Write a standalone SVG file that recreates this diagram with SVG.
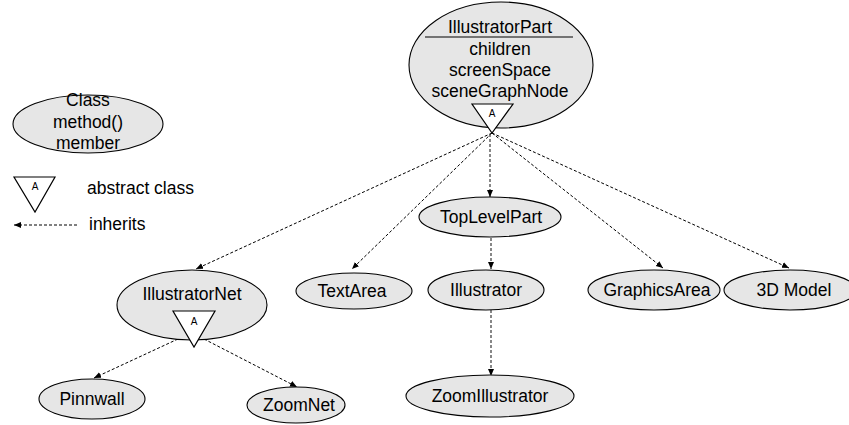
<svg xmlns="http://www.w3.org/2000/svg" width="849" height="425" viewBox="0 0 849 425">
<style>
  .n { fill: #e6e6e6; stroke: #000; stroke-width: 1.1; }
  .t { font-family: "Liberation Sans", Arial, sans-serif; font-size: 17.5px; fill: #000; text-anchor: middle; }
  .lt { font-family: "Liberation Sans", Arial, sans-serif; font-size: 17.5px; fill: #000; }
  .a { font-family: "Liberation Sans", Arial, sans-serif; font-size: 10px; fill: #000; text-anchor: middle; }
  .tri { fill: #fff; stroke: #000; stroke-width: 1.2; }
  .e { fill: none; stroke: #000; stroke-width: 1; stroke-dasharray: 3 2; marker-end: url(#ah); }
  .v { fill: none; stroke: #555; stroke-width: 1.4; stroke-dasharray: 3 2; marker-end: url(#ah); }
</style>
<defs>
  <marker id="ah" markerWidth="8" markerHeight="8" refX="7" refY="4" orient="auto" markerUnits="userSpaceOnUse">
    <path d="M0,1 L7,4 L0,7 Z" fill="#000"/>
  </marker>
</defs>
<rect width="849" height="425" fill="#fff"/>

<g id="legend">
  <ellipse class="n" cx="88" cy="124" rx="75" ry="29"/>
  <text class="t" x="88" y="106">Class</text>
  <text class="t" x="88" y="128">method()</text>
  <text class="t" x="88" y="149">member</text>
  <polygon class="tri" points="14,177 55,177 35,212"/>
  <text class="a" x="35" y="190">A</text>
  <text class="lt" x="87" y="194">abstract class</text>
  <line class="e" x1="77" y1="225" x2="14" y2="225"/>
  <text class="lt" x="89" y="230">inherits</text>
</g>

<g id="connectors">
  <line class="e" x1="492" y1="133" x2="196" y2="269"/>
  <line class="e" x1="492" y1="133" x2="352" y2="269"/>
  <line class="v" x1="490" y1="134" x2="490" y2="197"/>
  <line class="e" x1="492" y1="133" x2="663" y2="268"/>
  <line class="e" x1="492" y1="133" x2="789" y2="268"/>
  <line class="v" x1="491" y1="238" x2="491" y2="269"/>
  <line class="v" x1="491" y1="310" x2="491" y2="376"/>
  <line class="e" x1="178" y1="339" x2="94" y2="378"/>
  <line class="e" x1="204" y1="339" x2="297" y2="387"/>
</g>

<g id="IllustratorPart">
  <ellipse class="n" cx="501" cy="65" rx="92" ry="63"/>
  <text class="t" x="500" y="33">IllustratorPart</text>
  <line x1="425" y1="37" x2="573" y2="37" stroke="#000" stroke-width="1.2"/>
  <text class="t" x="500" y="55">children</text>
  <text class="t" x="500" y="76">screenSpace</text>
  <text class="t" x="500" y="97">sceneGraphNode</text>
  <polygon class="tri" points="472,104 513,104 492,133"/>
  <text class="a" x="492" y="117">A</text>
</g>

<g id="IllustratorNet">
  <ellipse class="n" cx="192" cy="305" rx="75" ry="35"/>
  <text class="t" x="192" y="300">IllustratorNet</text>
  <polygon class="tri" points="173,311 215,311 194,347"/>
  <text class="a" x="194" y="325">A</text>
</g>

<g id="TextArea">
  <ellipse class="n" cx="354" cy="291" rx="58" ry="18"/>
  <text class="t" x="352" y="297">TextArea</text>
</g>

<g id="TopLevelPart">
  <ellipse class="n" cx="490" cy="217" rx="71" ry="20"/>
  <text class="t" x="491" y="223">TopLevelPart</text>
</g>

<g id="Illustrator">
  <ellipse class="n" cx="486" cy="290" rx="58" ry="20"/>
  <text class="t" x="486" y="296">Illustrator</text>
</g>

<g id="ZoomIllustrator">
  <ellipse class="n" cx="490" cy="396" rx="84" ry="21"/>
  <text class="t" x="490" y="402">ZoomIllustrator</text>
</g>

<g id="GraphicsArea">
  <ellipse class="n" cx="654" cy="290" rx="66" ry="20"/>
  <text class="t" x="657" y="296">GraphicsArea</text>
</g>

<g id="Model3D">
  <ellipse class="n" cx="790" cy="290" rx="66" ry="20"/>
  <text class="t" x="794" y="296">3D Model</text>
</g>

<g id="Pinnwall">
  <ellipse class="n" cx="92" cy="399" rx="53" ry="20"/>
  <text class="t" x="92" y="405">Pinnwall</text>
</g>

<g id="ZoomNet">
  <ellipse class="n" cx="296" cy="405" rx="49" ry="18"/>
  <text class="t" x="299" y="411">ZoomNet</text>
</g>
</svg>
